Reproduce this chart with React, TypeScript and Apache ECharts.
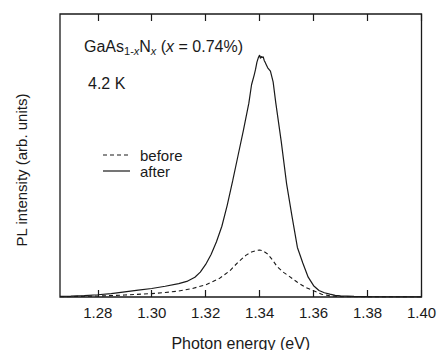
import React, { useEffect, useRef } from "react";
import * as echarts from "echarts";

const energyAfter = [
  1.266, 1.27, 1.275, 1.28, 1.285, 1.29, 1.295, 1.3, 1.305, 1.31, 1.313, 1.316, 1.318, 1.32, 1.322, 1.324,
  1.326, 1.328, 1.33, 1.332, 1.334, 1.336, 1.337, 1.338, 1.3385, 1.339, 1.3395, 1.34, 1.3403, 1.3406,
  1.3409, 1.3413, 1.3417, 1.342, 1.3425, 1.343, 1.344, 1.345, 1.346, 1.348, 1.35, 1.352, 1.354, 1.356,
  1.358, 1.36, 1.362, 1.364, 1.366, 1.368, 1.37, 1.375, 1.38, 1.39, 1.4,
];
const intensityAfter = [
  0.2, 0.3, 0.5, 0.8, 1.2, 1.8, 2.4, 3.0, 3.8, 4.7, 5.5, 7.0, 8.8, 11.5, 15.0, 19.5,
  25.0, 32.5, 41.0, 50, 59, 68.5, 75, 78.5, 80.5, 83, 84.5, 85.5, 84.3, 85.0,
  84.6, 84.9, 83.6, 83.0, 82.0, 81.0, 79.8, 76, 68.5, 55, 40, 28.5, 17.5, 12,
  7.0, 4.0, 2.3, 1.5, 1.0, 0.6, 0.4, 0.2, 0.1, 0.05, 0.03,
];

const energyBefore = [
  1.266, 1.275, 1.28, 1.29, 1.3, 1.305, 1.31, 1.315, 1.32, 1.325, 1.329, 1.332, 1.335, 1.337, 1.339,
  1.34, 1.341, 1.343, 1.345, 1.3465, 1.349, 1.351, 1.354, 1.357, 1.36, 1.363, 1.366, 1.37, 1.38, 1.4,
];
const intensityBefore = [
  0.1, 0.25, 0.35, 0.7, 1.2, 1.6, 2.1, 3.0, 4.3, 6.5, 9.3, 12.3, 14.8, 15.9, 16.5,
  16.6, 16.4, 15.2, 12.8, 10.7, 8.6, 7.3, 5.2, 3.4, 2.2, 1.0, 0.4, 0.15, 0.05, 0.02,
];

const tickValues = [1.28, 1.3, 1.32, 1.34, 1.36, 1.38, 1.4];
const seriesNames = ["before", "after"];

const FONT = "'Liberation Sans', Arial, Helvetica, sans-serif";
const INK = "#1a1a1a";
const DASH = [4, 3];

export default function App() {
  const ref = useRef<HTMLDivElement>(null);
  useEffect(() => {
    document.body.style.margin = "0";
    const chart = echarts.init(ref.current!, null, { renderer: "svg" });
    const xMin = 1.266;
    const xMax = 1.4;
    const legendRows = [
      { y: 155, dash: DASH, width: 1.1, name: seriesNames[0] },
      { y: 171, dash: null, width: 1.2, name: seriesNames[1] },
    ];
    const legendGraphics: any[] = [];
    legendRows.forEach((r) => {
      legendGraphics.push({
        type: "line",
        shape: { x1: 103, y1: r.y, x2: 130, y2: r.y },
        style: { stroke: INK, lineWidth: r.width, lineDash: r.dash || undefined },
      });
      legendGraphics.push({
        type: "text",
        x: 140,
        y: r.y,
        style: { text: r.name, fontSize: 15, fontFamily: FONT, fill: INK, verticalAlign: "middle", align: "left" },
      });
    });
    chart.setOption({
      animation: false,
      backgroundColor: "#fff",
      textStyle: { fontFamily: FONT, color: INK },
      grid: {
        left: 60,
        right: 16.5,
        top: 14,
        bottom: 53,
        show: true,
        borderColor: INK,
        borderWidth: 1.3,
        containLabel: false,
        outerBoundsMode: "none",
      },
      xAxis: [
        {
          type: "value",
          min: xMin,
          max: xMax,
          position: "bottom",
          axisLine: { show: false },
          splitLine: { show: false },
          axisTick: {
            show: true,
            inside: true,
            length: 7,
            customValues: tickValues,
            lineStyle: { color: INK, width: 1.2 },
          },
          axisLabel: {
            customValues: tickValues,
            formatter: (v: number) => v.toFixed(2),
            fontSize: 15,
            color: INK,
            fontFamily: FONT,
            margin: 8,
          },
          name: "Photon energy (eV)",
          nameLocation: "middle",
          nameGap: 38,
          nameTextStyle: { fontSize: 16, color: INK, fontFamily: FONT },
        },
        {
          type: "value",
          min: xMin,
          max: xMax,
          position: "top",
          axisLine: { show: false },
          splitLine: { show: false },
          axisTick: {
            show: true,
            inside: true,
            length: 7,
            customValues: tickValues,
            lineStyle: { color: INK, width: 1.2 },
          },
          axisLabel: { show: false },
        },
      ],
      yAxis: {
        type: "value",
        min: 0,
        max: 100,
        axisLine: { show: false },
        axisTick: { show: false },
        axisLabel: { show: false },
        splitLine: { show: false },
      },
      series: [
        {
          name: seriesNames[0],
          type: "line",
          xAxisIndex: 0,
          showSymbol: false,
          symbol: "none",
          data: energyBefore.map((e, i) => [e, intensityBefore[i]]),
          lineStyle: { color: INK, width: 1.1, type: DASH },
          itemStyle: { color: INK },
        },
        {
          name: seriesNames[1],
          type: "line",
          xAxisIndex: 0,
          showSymbol: false,
          symbol: "none",
          data: energyAfter.map((e, i) => [e, intensityAfter[i]]),
          lineStyle: { color: INK, width: 1.2, type: "solid" },
          itemStyle: { color: INK },
        },
      ],
      graphic: [
        {
          type: "text",
          left: 84,
          top: 38,
          style: {
            text: "{m|GaAs}{s|1-}{si|x}{m|N}{si|x}{m| (}{i|x}{m| = 0.74%)}",
            fill: INK,
            rich: {
              m: { fontSize: 16, fontFamily: FONT, fill: INK, lineHeight: 22, verticalAlign: "bottom" },
              i: { fontSize: 16, fontFamily: FONT, fill: INK, fontStyle: "italic", lineHeight: 22, verticalAlign: "bottom" },
              s: { fontSize: 11, fontFamily: FONT, fill: INK, lineHeight: 11, verticalAlign: "bottom", padding: [0, 0, -2, 0] },
              si: { fontSize: 11, fontFamily: FONT, fill: INK, fontStyle: "italic", lineHeight: 11, verticalAlign: "bottom", padding: [0, 0, -2, 0] },
            },
          },
        },
        {
          type: "text",
          left: 88,
          top: 75,
          style: { text: "4.2 K", fontSize: 16, fontFamily: FONT, fill: INK },
        },
        {
          type: "text",
          x: 21,
          y: 170,
          rotation: Math.PI / 2,
          style: {
            text: "PL intensity (arb. units)",
            fontSize: 15,
            fontFamily: FONT,
            fill: INK,
            align: "center",
            verticalAlign: "middle",
          },
        },
        ...legendGraphics,
      ],
    });
    return () => chart.dispose();
  }, []);
  return <div ref={ref} style={{ width: 438, height: 350 }} />;
}
